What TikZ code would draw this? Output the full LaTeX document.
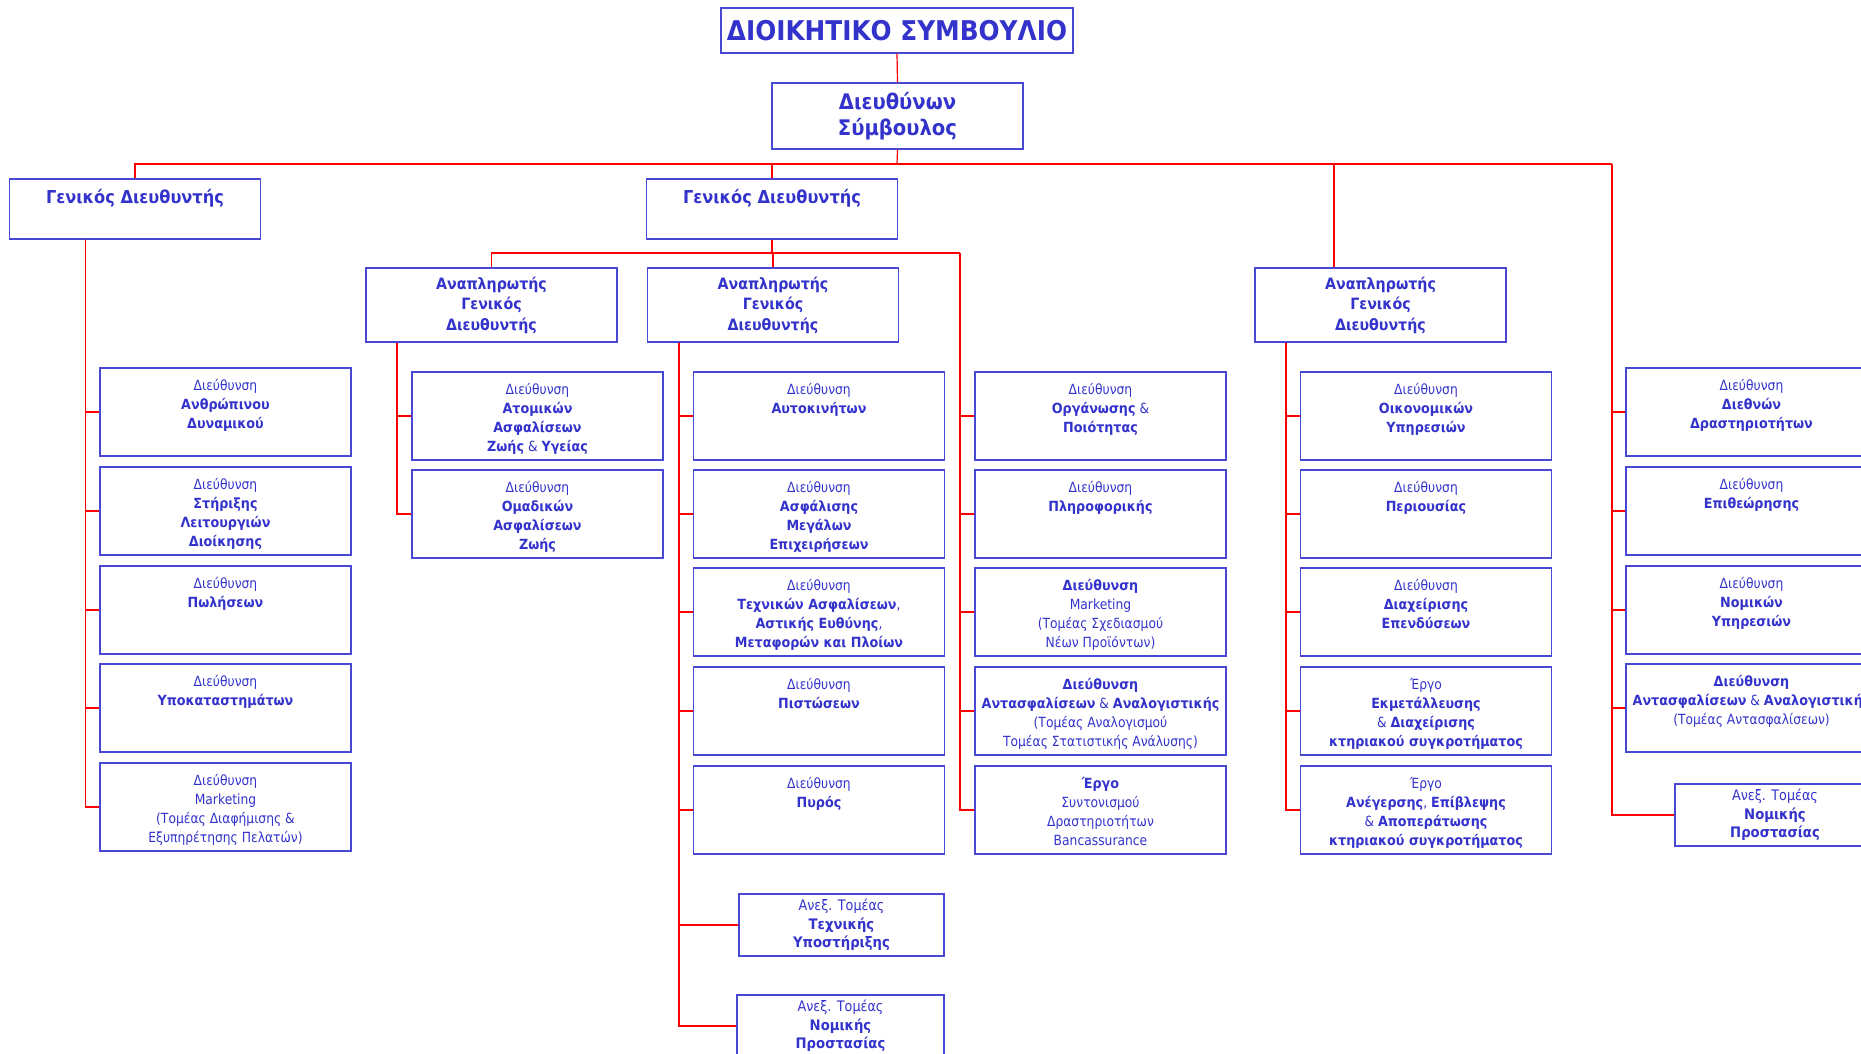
\documentclass[tikz,border=0pt]{standalone}
\usepackage{fontspec}
\setmainfont{DejaVu Sans}[FakeStretch=0.88, BoldFeatures={FakeStretch=0.91}]
\definecolor{boxblue}{RGB}{72,72,210}
\definecolor{txtblue}{RGB}{51,51,204}
% text of a Διεύθυνση box, set from the top
\newcommand\dirtext[1]{\parbox[c][84pt][t]{249pt}{\centering\rule{0pt}{20pt}#1}}

\begin{document}
\begin{tikzpicture}[x=1pt,y=-1pt]
\tikzset{box style/.style = {draw=boxblue, line width=1.4pt, inner sep=0pt, text=txtblue},
  dir style/.style = {box style, minimum width=251pt, minimum height=88pt, font=\fontsize{14}{19.3}\selectfont},
  head style/.style = {box style, minimum width=251pt, minimum height=74pt, align=center, font=\bfseries\fontsize{15.6}{20.5}\selectfont},
  gd style/.style = {box style, minimum width=251pt, minimum height=60pt, font=\bfseries\fontsize{17.8}{20}\selectfont, text height=12pt, text depth=23pt},
  sector style/.style = {box style, minimum height=62pt, align=center, font=\fontsize{14.5}{18.5}\selectfont},
  conn/.style = {draw=red, line width=1.2pt}}
\useasboundingbox (0,0) rectangle (1861,1053);

% top of the chart
\node[box style, minimum width=352pt, minimum height=45pt, font=\bfseries\fontsize{27.2}{30}\selectfont] (board) at (897,30.5) {ΔΙΟΙΚΗΤΙΚΟ ΣΥΜΒΟΥΛΙΟ};
\node[box style, minimum width=251pt, minimum height=66pt, align=center, font=\bfseries\fontsize{21.5}{26}\selectfont] (ceo) at (897.5,116) {Διευθύνων\\Σύμβουλος};
\node[gd style] (gd1) at (135,209) {Γενικός Διευθυντής};
\node[gd style] (gd2) at (772,209) {Γενικός Διευθυντής};
\node[head style] (ap1) at (491.5,305) {Αναπληρωτής\\Γενικός\\Διευθυντής};
\node[head style] (ap2) at (773,305) {Αναπληρωτής\\Γενικός\\Διευθυντής};
\node[head style] (ap3) at (1380.5,305) {Αναπληρωτής\\Γενικός\\Διευθυντής};

% under the first Γενικός Διευθυντής
\node[dir style] (l1) at (225.5,412) {\dirtext{Διεύθυνση\\\textbf{Ανθρώπινου}\\\textbf{Δυναμικού}}};
\node[dir style] (l2) at (225.5,511) {\dirtext{Διεύθυνση\\\textbf{Στήριξης}\\\textbf{Λειτουργιών}\\\textbf{Διοίκησης}}};
\node[dir style] (l3) at (225.5,610) {\dirtext{Διεύθυνση\\\textbf{Πωλήσεων}}};
\node[dir style] (l4) at (225.5,708) {\dirtext{Διεύθυνση\\\textbf{Υποκαταστημάτων}}};
\node[dir style] (l5) at (225.5,807) {\dirtext{Διεύθυνση\\Marketing\\(Τομέας Διαφήμισης \&\\Εξυπηρέτησης Πελατών)}};

% first Αναπληρωτής
\node[dir style] (a1) at (537.5,416) {\dirtext{Διεύθυνση\\\textbf{Ατομικών}\\\textbf{Ασφαλίσεων}\\\textbf{Ζωής} \& \textbf{Υγείας}}};
\node[dir style] (a2) at (537.5,514) {\dirtext{Διεύθυνση\\\textbf{Ομαδικών}\\\textbf{Ασφαλίσεων}\\\textbf{Ζωής}}};

% second Αναπληρωτής
\node[dir style] (b1) at (819,416) {\dirtext{Διεύθυνση\\\textbf{Αυτοκινήτων}}};
\node[dir style] (b2) at (819,514) {\dirtext{Διεύθυνση\\\textbf{Ασφάλισης}\\\textbf{Μεγάλων}\\\textbf{Επιχειρήσεων}}};
\node[dir style] (b3) at (819,612) {\dirtext{Διεύθυνση\\\textbf{Τεχνικών Ασφαλίσεων},\\\textbf{Αστικής Ευθύνης},\\\textbf{Μεταφορών και Πλοίων}}};
\node[dir style] (b4) at (819,711) {\dirtext{Διεύθυνση\\\textbf{Πιστώσεων}}};
\node[dir style] (b5) at (819,810) {\dirtext{Διεύθυνση\\\textbf{Πυρός}}};
\node[sector style, minimum width=205pt] (b6) at (841.5,925) {Ανεξ. Τομέας\\\textbf{Τεχνικής}\\\textbf{Υποστήριξης}};
\node[sector style, minimum width=207pt] (b7) at (840.5,1026) {Ανεξ. Τομέας\\\textbf{Νομικής}\\\textbf{Προστασίας}};

% straight under the second Γενικός Διευθυντής
\node[dir style] (c1) at (1100.5,416) {\dirtext{Διεύθυνση\\\textbf{Οργάνωσης} \&\\\textbf{Ποιότητας}}};
\node[dir style] (c2) at (1100.5,514) {\dirtext{Διεύθυνση\\\textbf{Πληροφορικής}}};
\node[dir style] (c3) at (1100.5,612) {\dirtext{\textbf{Διεύθυνση}\\Marketing\\(Τομέας Σχεδιασμού\\Νέων Προϊόντων)}};
\node[dir style] (c4) at (1100.5,711) {\dirtext{\textbf{Διεύθυνση}\\\textbf{Αντασφαλίσεων} \& \textbf{Αναλογιστικής}\\(Τομέας Αναλογισμού\\Τομέας Στατιστικής Ανάλυσης)}};
\node[dir style] (c5) at (1100.5,810) {\dirtext{\textbf{Έργο}\\Συντονισμού\\Δραστηριοτήτων\\Bancassurance}};

% third Αναπληρωτής
\node[dir style] (d1) at (1426,416) {\dirtext{Διεύθυνση\\\textbf{Οικονομικών}\\\textbf{Υπηρεσιών}}};
\node[dir style] (d2) at (1426,514) {\dirtext{Διεύθυνση\\\textbf{Περιουσίας}}};
\node[dir style] (d3) at (1426,612) {\dirtext{Διεύθυνση\\\textbf{Διαχείρισης}\\\textbf{Επενδύσεων}}};
\node[dir style] (d4) at (1426,711) {\dirtext{Έργο\\\textbf{Εκμετάλλευσης}\\\& \textbf{Διαχείρισης}\\\textbf{κτηριακού συγκροτήματος}}};
\node[dir style] (d5) at (1426,810) {\dirtext{Έργο\\\textbf{Ανέγερσης}, \textbf{Επίβλεψης}\\\& \textbf{Αποπεράτωσης}\\\textbf{κτηριακού συγκροτήματος}}};

% straight under the Διευθύνων Σύμβουλος
\node[dir style] (e1) at (1751.5,412) {\dirtext{Διεύθυνση\\\textbf{Διεθνών}\\\textbf{Δραστηριοτήτων}}};
\node[dir style] (e2) at (1751.5,511) {\dirtext{Διεύθυνση\\\textbf{Επιθεώρησης}}};
\node[dir style] (e3) at (1751.5,610) {\dirtext{Διεύθυνση\\\textbf{Νομικών}\\\textbf{Υπηρεσιών}}};
\node[dir style] (e4) at (1751.5,708) {\dirtext{\textbf{Διεύθυνση}\\\textbf{Αντασφαλίσεων} \& \textbf{Αναλογιστικής}\\(Τομέας Αντασφαλίσεων)}};
\node[sector style, minimum width=200pt] (e5) at (1775,815) {Ανεξ. Τομέας\\\textbf{Νομικής}\\\textbf{Προστασίας}};

% red lines
\coordinate (bus) at (897,164);
\coordinate (etrunk) at (1612,164);
\coordinate (sub) at (772,253);
\coordinate (ctrunk) at (960,253);
\draw[conn] (board.south) -- (ceo.north);
\draw[conn] (ceo.south) -- (bus);
\draw[conn] (gd1.north) |- (etrunk);
\draw[conn] (gd2.north) -- (gd2.north |- bus);
\draw[conn] ([xshift=-46.5pt]ap3.north) |- (bus);
\foreach \i in {1,...,5} \draw[conn] (etrunk) |- (e\i.west);
\draw[conn] (gd2.south) -- (sub);
\draw[conn] (ap1.north) |- (ctrunk);
\draw[conn] (ap2.north) -- (ap2.north |- sub);
\foreach \i in {1,...,5} \draw[conn] (ctrunk) |- (c\i.west);
\foreach \i in {1,...,5} \draw[conn] ([xshift=-49.5pt]gd1.south) |- (l\i.west);
\foreach \i in {1,2} \draw[conn] ([xshift=-94.5pt]ap1.south) |- (a\i.west);
\foreach \i in {1,...,7} \draw[conn] ([xshift=-94pt]ap2.south) |- (b\i.west);
\foreach \i in {1,...,5} \draw[conn] ([xshift=-94.5pt]ap3.south) |- (d\i.west);
\end{tikzpicture}
\end{document}
